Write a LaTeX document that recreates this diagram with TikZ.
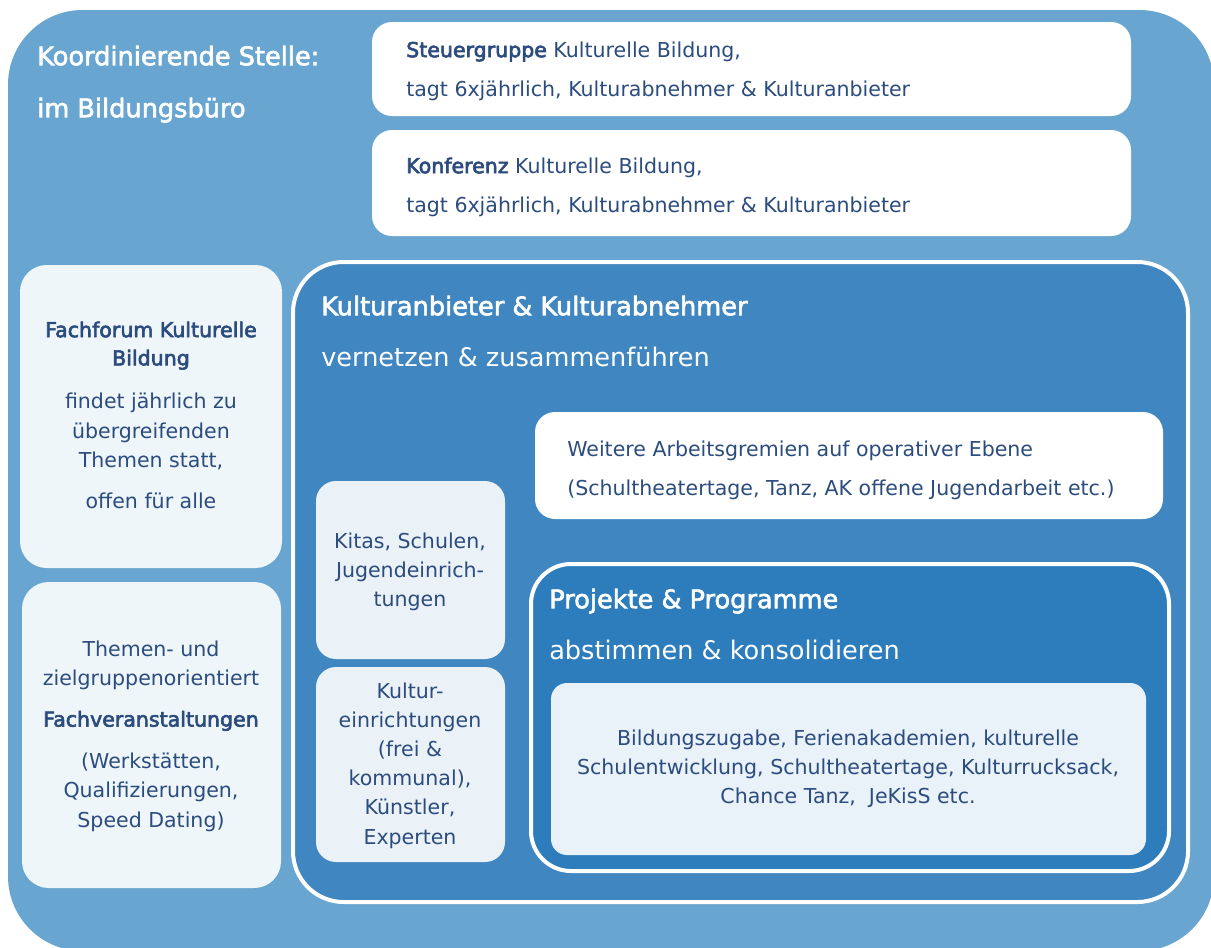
\documentclass[tikz,border=0pt]{standalone}
\usepackage{fontspec}
\setmainfont{DejaVu Sans}
\newfontfamily\semib[FakeBold=3]{DejaVu Sans}
\newfontfamily\titlef[FakeBold=2.2]{DejaVu Sans}
\definecolor{outerblue}{HTML}{68A5D0}
\definecolor{midblue}{HTML}{4086C1}
\definecolor{deepblue}{HTML}{2D7DBD}
\definecolor{txtblue}{HTML}{2C4C7E}
\definecolor{paleA}{HTML}{EEF6FA}
\definecolor{paleB}{HTML}{EBF2F7}
\definecolor{paleC}{HTML}{E9F1F9}
\tikzset{
  bodyl/.style={inner sep=0pt, text=txtblue, align=left, anchor=north west, font=\fontsize{15.4}{29.25}\selectfont},
  bodyc/.style={inner sep=0pt, text=txtblue, align=center, anchor=north, font=\fontsize{15.4}{21.9}\selectfont},
  headw/.style={inner sep=0pt, text=white, align=left, anchor=north west, font=\fontsize{19.2}{38.5}\selectfont}
}
\begin{document}
\begin{tikzpicture}[x=0.75pt,y=-0.75pt]
\useasboundingbox (0,0) rectangle (1211,947);
% outer area
\path[fill=outerblue, rounded corners=56pt] (8,10) rectangle (1214,951);
\node[headw, font=\fontsize{19.2}{39}\selectfont] (koord) at (37,45.5) {\titlef Koordinierende Stelle:\\\titlef im Bildungsbüro};
% top white boxes
\path[fill=white, rounded corners=15pt] (372,22) rectangle (1131,116);
\node[bodyl] (steuer) at (406,41.3) {{\semib Steuergruppe} Kulturelle Bildung,\\tagt 6xjährlich, Kulturabnehmer \& Kulturanbieter};
\path[fill=white, rounded corners=15pt] (372,130) rectangle (1131,236);
\node[bodyl] (konf) at (406,157.3) {{\semib Konferenz} Kulturelle Bildung,\\tagt 6xjährlich, Kulturabnehmer \& Kulturanbieter};
% left boxes
\path[fill=paleA, rounded corners=20pt] (20,265) rectangle (282,568);
\node[bodyc] (fachforum) at (151,321.3) {{\semib Fachforum Kulturelle}\\[-0.75pt]{\semib Bildung}\\[10.5pt]findet jährlich zu\\[0.75pt]übergreifenden\\Themen statt,\\[8.25pt]offen für alle};
\path[fill=paleA, rounded corners=20pt] (22,582) rectangle (281,888);
\node[bodyc] (themen) at (151,640.3) {Themen- und\\zielgruppenorientiert\\[9pt]{\semib Fachveranstaltungen}\\[9.75pt](Werkstätten,\\Qualifizierungen,\\Speed Dating)};
% Kulturanbieter area
\path[fill=midblue, draw=white, line width=3pt, rounded corners=38pt] (293,262) rectangle (1188,902);
\node[headw] (kultur) at (321,295.5) {\titlef Kulturanbieter \& Kulturabnehmer\\vernetzen \& zusammenführen};
\path[fill=white, rounded corners=15pt] (535,412) rectangle (1163,519);
\node[bodyl] (weitere) at (567,440.3) {Weitere Arbeitsgremien auf operativer Ebene\\(Schultheatertage, Tanz, AK offene Jugendarbeit etc.)};
\path[fill=paleB, rounded corners=15pt] (316,481) rectangle (505,659);
\node[bodyc] (kitas) at (410,532.3) {Kitas, Schulen,\\Jugendeinrich-\\tungen};
\path[fill=paleB, rounded corners=15pt] (316,667) rectangle (505,862);
\node[bodyc] (kulturein) at (410,682.3) {Kultur-\\einrichtungen\\(frei \&\\kommunal),\\Künstler,\\Experten};
% Projekte area
\path[fill=deepblue, draw=white, line width=3pt, rounded corners=30pt] (531,564) rectangle (1169,871);
\node[headw, font=\fontsize{19.2}{38.25}\selectfont] (projekte) at (549,588.5) {\titlef Projekte \& Programme\\abstimmen \& konsolidieren};
\path[fill=paleC, rounded corners=12pt] (551,683) rectangle (1146,855);
\node[bodyc] (bildung) at (848,729.3) {Bildungszugabe, Ferienakademien, kulturelle\\Schulentwicklung, Schultheatertage, Kulturrucksack,\\Chance Tanz,\ \ JeKisS etc.};
\end{tikzpicture}
\end{document}
